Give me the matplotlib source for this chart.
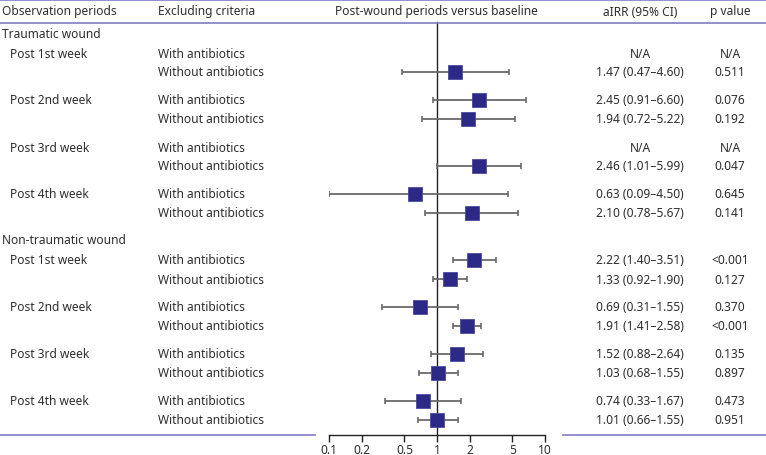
import numpy as np
import matplotlib
matplotlib.use('Agg')
import matplotlib.pyplot as plt
from matplotlib.lines import Line2D

plt.rcParams['font.family'] = ['Noto Sans', 'DejaVu Sans']

# 資料
sections = ['Traumatic wound', 'Non-traumatic wound']
periods = ['Post 1st week', 'Post 2nd week', 'Post 3rd week', 'Post 4th week']
criteria = ['With antibiotics', 'Without antibiotics']

# order: section -> period -> criteria ; None = N/A
airr = [None, 1.47, 2.45, 1.94, None, 2.46, 0.63, 2.10,
        2.22, 1.33, 0.69, 1.91, 1.52, 1.03, 0.74, 1.01]
ci_low = [None, 0.47, 0.91, 0.72, None, 1.01, 0.09, 0.78,
          1.40, 0.92, 0.31, 1.41, 0.88, 0.68, 0.33, 0.66]
ci_high = [None, 4.60, 6.60, 5.22, None, 5.99, 4.50, 5.67,
           3.51, 1.90, 1.55, 2.58, 2.64, 1.55, 1.67, 1.55]
p_values = ['N/A', '0.511', '0.076', '0.192', 'N/A', '0.047', '0.645', '0.141',
            '<0.001', '0.127', '0.370', '<0.001', '0.135', '0.897', '0.473', '0.951']
tick_vals = [0.1, 0.2, 0.5, 1, 2, 5, 10]
tick_labels = ['0.1', '0.2', '0.5', '1', '2', '5', '10']

W, H = 766, 456
TXT = '#2e2e2e'
PURPLE = '#7f7cc4'
BOX = '#2c2a86'
FS = 8.6

fig = plt.figure(figsize=(W / 100, H / 100), dpi=100)


def fy(py):
    return 1 - py / H


def fx(px):
    return px / W


# 版面位置 (像素)
sec_y = []
per_y = []
row_y = []
cur = 34
for s in sections:
    sec_y.append(cur)
    cur += 20
    for p in periods:
        per_y.append(cur)
        row_y.append(cur)
        row_y.append(cur + 19)
        cur += 47
    cur = cur - 47 + 19 + 27

# 森林圖的軸
ax_left, ax_right, ax_bottom = 329, 545, 436
ax = fig.add_axes([fx(ax_left), fy(ax_bottom), (ax_right - ax_left) / W, ax_bottom / H])
ax.set_xscale('log')
ax.set_xlim(0.1, 10)
ax.set_ylim(ax_bottom, 0)
for sp in ['left', 'right', 'top']:
    ax.spines[sp].set_visible(False)
ax.spines['bottom'].set_color('#222222')
ax.spines['bottom'].set_linewidth(1.0)
ax.set_yticks([])
ax.set_xticks(tick_vals)
ax.set_xticklabels(tick_labels)
ax.xaxis.set_minor_locator(matplotlib.ticker.NullLocator())
ax.tick_params(axis='x', direction='out', length=5, width=1, color='#222222',
               labelsize=FS, labelcolor=TXT, pad=0.5)
ax.patch.set_alpha(0)

ax.plot([1, 1], [23, ax_bottom], color='#222222', lw=1.0, zorder=1)

for i, v in enumerate(airr):
    if v is None:
        continue
    lo = max(ci_low[i], 0.1)
    hi = ci_high[i]
    y = row_y[i]
    ax.errorbar(v, y, xerr=[[v - lo], [hi - v]], fmt='none', ecolor='#6a6a6a',
                elinewidth=1.3, capsize=2.5, capthick=1.2, zorder=2)
    ax.plot(v, y, marker='s', ms=9.5, color=BOX, mec='#4a48a0', mew=0.6,
            ls='none', zorder=3)

# 表頭
hy = fy(12)
fig.text(fx(2), hy, 'Observation periods', ha='left', va='center', fontsize=FS, color=TXT)
fig.text(fx(158), hy, 'Excluding criteria', ha='left', va='center', fontsize=FS, color=TXT)
fig.text(fx(436), hy, 'Post-wound periods versus baseline', ha='center', va='center', fontsize=FS, color=TXT)
fig.text(fx(640), hy, 'aIRR (95% CI)', ha='center', va='center', fontsize=FS, color=TXT)
fig.text(fx(730), hy, 'p value', ha='center', va='center', fontsize=FS, color=TXT)

for s, y in zip(sections, sec_y):
    fig.text(fx(2), fy(y), s, ha='left', va='center', fontsize=FS, color=TXT)

for k, y in enumerate(per_y):
    fig.text(fx(10), fy(y), periods[k % 4], ha='left', va='center', fontsize=FS, color=TXT)

for i, y in enumerate(row_y):
    fig.text(fx(158), fy(y), criteria[i % 2], ha='left', va='center', fontsize=FS, color=TXT)
    if airr[i] is None:
        est = 'N/A'
    else:
        est = '%.2f (%.2f–%.2f)' % (airr[i], ci_low[i], ci_high[i])
    fig.text(fx(640), fy(y), est, ha='center', va='center', fontsize=FS, color=TXT)
    fig.text(fx(730), fy(y), p_values[i], ha='center', va='center', fontsize=FS, color=TXT)

# 紫色分隔線
for (x0, x1, y) in [(0, W, 1), (0, W, 24), (0, 315, 436), (563, W, 436)]:
    fig.add_artist(Line2D([fx(x0), fx(x1)], [fy(y), fy(y)], color=PURPLE, lw=1.2))

fig.savefig('out.png', dpi=100)
